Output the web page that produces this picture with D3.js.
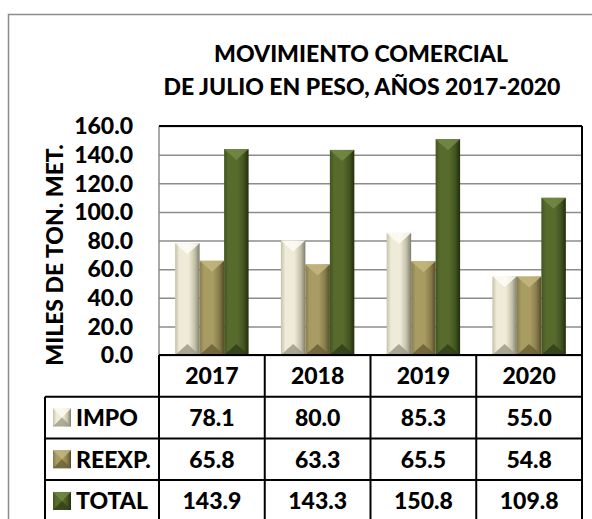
<!DOCTYPE html>
<html>
<head>
<meta charset="utf-8">
<script src="https://cdn.jsdelivr.net/npm/d3@7"></script>
<style>
  body { margin: 0; background: #fff; }
  svg { display: block; font-family: Lato, "Open Sans", sans-serif; font-weight: 900; }
</style>
</head>
<body>
<svg id="chart" width="592" height="519"></svg>
<script>
// data
const years = ['2017', '2018', '2019', '2020'];
const seriesNames = ['IMPO', 'REEXP.', 'TOTAL'];
const impo = [78.1, 80.0, 85.3, 55.0];
const reexp = [65.8, 63.3, 65.5, 54.8];
const total = [143.9, 143.3, 150.8, 109.8];
const yTicks = [0, 20, 40, 60, 80, 100, 120, 140, 160];

const seriesValues = [impo, reexp, total];
// colours per series
const palette = [
  { dark: '#7f7e6e', light: '#efebd9', mid: '#c4c1aa', top: '#fdfcf4', bot: '#9d9b86' },
  { dark: '#554c2a', light: '#a89c63', mid: '#887c4a', top: '#c4b77d', bot: '#6a6036' },
  { dark: '#222d0d', light: '#576b2d', mid: '#435420', top: '#738a45', bot: '#313f18' }
];

const fs = '23px';
const svg = d3.select('#chart');

// outer frame
svg.append('rect')
  .attr('x', 8.5).attr('y', 14.5).attr('width', 620).attr('height', 560)
  .attr('fill', 'none').attr('stroke', '#8c8c8c').attr('stroke-width', 1.5);

// title
svg.append('text').attr('x', 361).attr('y', 62).attr('text-anchor', 'middle')
  .style('font-size', fs).text('MOVIMIENTO COMERCIAL');
svg.append('text').attr('x', 362).attr('y', 95).attr('text-anchor', 'middle')
  .style('font-size', fs).text('DE JULIO EN PESO, AÑOS 2017-2020');

const pLeft = 159, pRight = 582, pTop = 126, pBottom = 355;

const y = d3.scaleLinear().domain([0, 160]).range([pBottom, pTop]);
const x = d3.scaleBand().domain(years).range([pLeft, pRight]).padding(0);
const xs = d3.scaleBand().domain(seriesNames).range([0, x.bandwidth()])
  .paddingInner(0).paddingOuter(0.66);

// gridlines
svg.append('g')
  .attr('transform', `translate(${pLeft},0)`)
  .call(d3.axisLeft(y).tickValues(yTicks).tickSize(-(pRight - pLeft)).tickFormat(''))
  .call(g => g.select('.domain').remove())
  .call(g => g.selectAll('line').attr('stroke', '#8c8c8c').attr('stroke-width', 1.5));

// y tick labels
svg.append('g').selectAll('text').data(yTicks).enter().append('text')
  .attr('x', 133).attr('y', d => y(d)).attr('dy', '0.36em')
  .attr('text-anchor', 'end').style('font-size', fs)
  .text(d => d.toFixed(1));

// y title
svg.append('text')
  .attr('transform', 'translate(63,255) rotate(-90)')
  .attr('text-anchor', 'middle').style('font-size', fs)
  .text('MILES DE TON. MET.');

// gradients
const defs = svg.append('defs');
palette.forEach((p, i) => {
  const g = defs.append('linearGradient').attr('id', 'grad' + i)
    .attr('x1', '0%').attr('x2', '100%').attr('y1', '0%').attr('y2', '0%');
  g.append('stop').attr('offset', '0%').attr('stop-color', p.mid);
  g.append('stop').attr('offset', '18%').attr('stop-color', p.light);
  g.append('stop').attr('offset', '55%').attr('stop-color', p.light);
  g.append('stop').attr('offset', '80%').attr('stop-color', p.mid);
  g.append('stop').attr('offset', '100%').attr('stop-color', p.dark);
});

// bars
const bars = [];
years.forEach((yr, j) => {
  seriesNames.forEach((s, i) => {
    bars.push({ year: yr, si: i, value: seriesValues[i][j] });
  });
});

const barG = svg.append('g').selectAll('g').data(bars).enter().append('g');
barG.each(function (d) {
  const g = d3.select(this);
  const x0 = x(d.year) + xs(seriesNames[d.si]);
  const w = xs.bandwidth();
  const y0 = y(d.value);
  const h = pBottom - y0;
  const p = palette[d.si];
  const f = Math.min(w * 0.45, h / 2);
  g.append('rect').attr('x', x0).attr('y', y0).attr('width', w).attr('height', h)
    .attr('fill', `url(#grad${d.si})`);
  // top facet
  g.append('path')
    .attr('d', `M${x0},${y0}L${x0 + w},${y0}L${x0 + w / 2},${y0 + f}Z`)
    .attr('fill', p.top).attr('opacity', 0.85);
  // bottom facet
  g.append('path')
    .attr('d', `M${x0},${pBottom}L${x0 + w},${pBottom}L${x0 + w / 2},${pBottom - f}Z`)
    .attr('fill', p.bot).attr('opacity', 0.85);
});

// plot borders
svg.append('line').attr('x1', pLeft).attr('x2', pLeft).attr('y1', pTop).attr('y2', pBottom)
  .attr('stroke', '#8c8c8c').attr('stroke-width', 1.5);
svg.append('line').attr('x1', pLeft).attr('x2', pRight).attr('y1', pTop).attr('y2', pTop)
  .attr('stroke', '#000').attr('stroke-width', 2);
svg.append('line').attr('x1', pRight).attr('x2', pRight).attr('y1', pTop).attr('y2', 530)
  .attr('stroke', '#000').attr('stroke-width', 2);

// data table
const rowH = 41.7;
const tableLeft = 45;
const rowsY = [0, 1, 2, 3].map(k => pBottom + k * rowH);
const tbl = svg.append('g');

tbl.append('line').attr('x1', pLeft).attr('x2', pRight).attr('y1', pBottom).attr('y2', pBottom)
  .attr('stroke', '#000').attr('stroke-width', 2);
[1, 2, 3, 4].forEach(k => {
  tbl.append('line').attr('x1', tableLeft).attr('x2', pRight)
    .attr('y1', pBottom + k * rowH).attr('y2', pBottom + k * rowH)
    .attr('stroke', '#000').attr('stroke-width', 2);
});
years.forEach(yr => {
  tbl.append('line').attr('x1', x(yr)).attr('x2', x(yr)).attr('y1', pBottom).attr('y2', 530)
    .attr('stroke', '#000').attr('stroke-width', 2);
});
tbl.append('line').attr('x1', tableLeft).attr('x2', tableLeft).attr('y1', pBottom + rowH).attr('y2', 530)
  .attr('stroke', '#000').attr('stroke-width', 2);

// header
tbl.selectAll('.hdr').data(years).enter().append('text')
  .attr('x', d => x(d) + x.bandwidth() / 2).attr('y', pBottom + rowH / 2).attr('dy', '0.36em')
  .attr('text-anchor', 'middle').style('font-size', fs).text(d => d);

// rows
seriesNames.forEach((s, i) => {
  const cy = rowsY[i + 1] + rowH / 2;
  const p = palette[i];
  tbl.append('rect').attr('x', 53).attr('y', cy - 9).attr('width', 18).attr('height', 18)
    .attr('fill', `url(#grad${i})`);
  tbl.append('path').attr('d', `M53,${cy - 9}L71,${cy - 9}L62,${cy}Z`).attr('fill', p.top).attr('opacity', 0.8);
  tbl.append('path').attr('d', `M53,${cy + 9}L71,${cy + 9}L62,${cy}Z`).attr('fill', p.bot).attr('opacity', 0.8);
  tbl.append('text').attr('x', 76).attr('y', cy).attr('dy', '0.36em')
    .style('font-size', fs).text(s);
  tbl.selectAll('.v' + i).data(years).enter().append('text')
    .attr('x', d => x(d) + x.bandwidth() / 2).attr('y', cy).attr('dy', '0.36em')
    .attr('text-anchor', 'middle').style('font-size', fs)
    .text((d, j) => seriesValues[i][j].toFixed(1));
});
</script>
</body>
</html>
